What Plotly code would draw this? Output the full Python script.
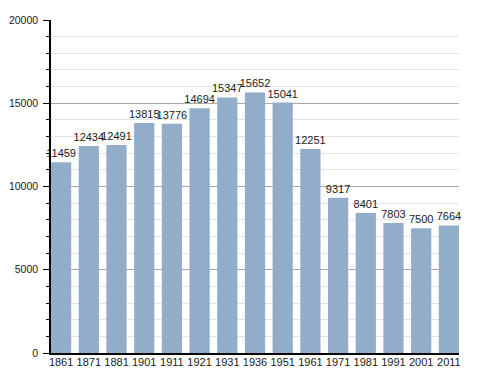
import plotly.graph_objects as go

years = ["1861", "1871", "1881", "1901", "1911", "1921", "1931", "1936",
         "1951", "1961", "1971", "1981", "1991", "2001", "2011"]
population = [11459, 12434, 12491, 13815, 13776, 14694, 15347, 15652,
              15041, 12251, 9317, 8401, 7803, 7500, 7664]
y_ticks = [0, 5000, 10000, 15000, 20000]

fig = go.Figure(go.Bar(
    x=years, y=population,
    marker=dict(color="#92adca", line=dict(width=0)),
    width=0.73,
    text=[str(v) for v in population],
    textposition="outside",
    constraintext="none",
    textfont=dict(family="Liberation Sans, Arial", size=11, color="#1a1a1a"),
    cliponaxis=False,
))

# the page body adds an 8px offset, so the figure is sized to compensate
fig.update_layout(
    width=480, height=365,
    margin=dict(l=43, r=29, t=12, b=20),
    paper_bgcolor="white", plot_bgcolor="white",
    font=dict(family="Liberation Sans, Arial", size=11, color="#1a1a1a"),
    showlegend=False,
    bargap=0.27,
)
fig.update_xaxes(
    type="category", range=[-0.365, 14.365], automargin=False,
    showline=True, linecolor="black", linewidth=1.5,
    ticks="", showgrid=False, tickfont=dict(size=11),
    ticklabelstandoff=-2,
)
fig.update_yaxes(
    range=[0, 20000], tickvals=y_ticks, ticktext=[str(v) for v in y_ticks],
    automargin=False,
    showline=True, linecolor="black", linewidth=1.5,
    ticks="outside", ticklen=6, tickcolor="black",
    ticklabelstandoff=3,
    showgrid=True, gridcolor="#a8a8a8", gridwidth=1,
    zeroline=False,
    minor=dict(dtick=1000, ticks="outside", ticklen=3, tickcolor="black",
               showgrid=True, gridcolor="#e4e4e4", gridwidth=1),
    tickfont=dict(size=10.5),
)

fig.write_html("out.html")
